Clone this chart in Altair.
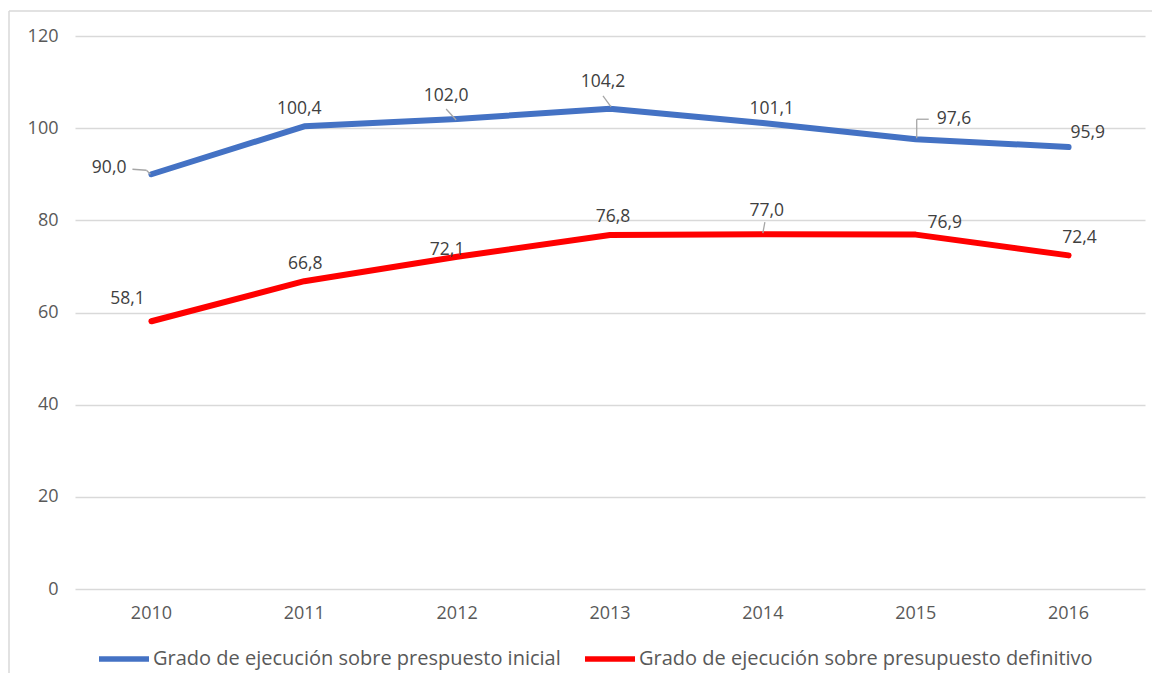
import altair as alt
import pandas as pd

years = ["2010", "2011", "2012", "2013", "2014", "2015", "2016"]
inicial = [90.0, 100.4, 102.0, 104.2, 101.1, 97.6, 95.9]
definitivo = [58.1, 66.8, 72.1, 76.8, 77.0, 76.9, 72.4]
series_names = [
    "Grado de ejecución sobre prespuesto inicial",
    "Grado de ejecución sobre presupuesto definitivo",
]
colors = ["#4472C4", "#FF0000"]
y_ticks = [0, 20, 40, 60, 80, 100, 120]

rows = []
for name, vals in zip(series_names, [inicial, definitivo]):
    for yr, v in zip(years, vals):
        rows.append({"year": yr, "value": v, "serie": name,
                     "label": f"{v:.1f}".replace(".", ",")})
df = pd.DataFrame(rows)

FONT = "Open Sans"
W, H = 1070, 553

x_enc = alt.X("year:N", sort=years, title=None,
              axis=alt.Axis(labelAngle=0, labelPadding=15, grid=False,
                            labelFont=FONT, labelFontSize=18, labelColor="#595959"))
y_enc = alt.Y("value:Q", title=None,
              scale=alt.Scale(domain=[0, 120], nice=False, zero=True),
              axis=alt.Axis(values=y_ticks, labelPadding=17, grid=True,
                            labelFont=FONT, labelFontSize=18, labelColor="#595959"))

base = alt.Chart(df)

lines = base.mark_line(strokeWidth=6, strokeCap="round", strokeJoin="round").encode(
    x=x_enc,
    y=y_enc,
    color=alt.Color("serie:N", sort=series_names,
                    scale=alt.Scale(domain=series_names, range=colors),
                    legend=alt.Legend(title=None, orient="none", legendX=21, legendY=595,
                                      direction="horizontal", symbolType="stroke",
                                      symbolStrokeWidth=5.5, symbolSize=2500,
                                      labelFont=FONT, labelFontSize=20, labelColor="#595959",
                                      labelOffset=1, columnPadding=13, labelLimit=700)),
)

# label placement (align, dx, dy) per series index and year
label_pos = {
    (0, "2010"): ("right", -25, -6),
    (0, "2011"): ("center", -5, -17),
    (0, "2012"): ("center", -11, -23),
    (0, "2013"): ("center", -7, -27),
    (0, "2014"): ("center", 9, -14),
    (0, "2015"): ("left", 21, -20),
    (0, "2016"): ("left", 2, -14),
    (1, "2010"): ("center", -24, -22),
    (1, "2011"): ("center", 1, -17),
    (1, "2012"): ("center", -10, -7),
    (1, "2013"): ("center", 3, -18),
    (1, "2014"): ("center", 4, -23),
    (1, "2015"): ("center", 29, -12),
    (1, "2016"): ("center", 11, -17),
}

layers = [lines]
for (si, yr), (al, dx, dy) in label_pos.items():
    layers.append(
        base.transform_filter(
            (alt.datum.serie == series_names[si]) & (alt.datum.year == yr)
        ).mark_text(align=al, baseline="middle", dx=dx, dy=dy, font=FONT,
                    fontSize=17.5, color="#404040").encode(
            x=alt.X("year:N", sort=years), y=alt.Y("value:Q"), text="label:N")
    )

# leader lines (series, year, x1, y1, x2, y2 offsets in px)
leaders = [
    (0, "2010", -19, -5, -5, -4),
    (0, "2010", -5, -4, -1, 0),
    (0, "2012", -11, -10, -1, 1),
    (0, "2013", -7, -13, 1, -2),
    (0, "2015", 1, -1, 1, -20),
    (0, "2015", 1, -20, 13, -20),
    (1, "2014", 2, -12, 0, -1),
]
for si, yr, x1, y1, x2, y2 in leaders:
    layers.append(
        base.transform_filter(
            (alt.datum.serie == series_names[si]) & (alt.datum.year == yr)
        ).mark_rule(color="#a6a6a6", strokeWidth=1.3, xOffset=x1, yOffset=y1,
                    x2Offset=x2, y2Offset=y2).encode(
            x=alt.X("year:N", sort=years), x2=alt.X2("year"),
            y=alt.Y("value:Q"), y2=alt.Y2("value"))
    )

# outer frame (top and left edges)
frame_top = alt.Chart(pd.DataFrame({"k": [0]})).mark_rule(color="#d9d9d9", strokeWidth=1.5).encode(
    x=alt.value(-66), x2=alt.value(1085), y=alt.value(-25))
frame_left = alt.Chart(pd.DataFrame({"k": [0]})).mark_rule(color="#d9d9d9", strokeWidth=1.5).encode(
    x=alt.value(-66), y=alt.value(-25), y2=alt.value(650))
layers += [frame_top, frame_left]

chart = alt.layer(*layers).properties(
    width=W, height=H,
    autosize=alt.AutoSizeParams(type="none"),
    padding={"left": 67, "top": 28, "right": 7, "bottom": 84},
    background="white",
).configure_view(stroke=None).configure_axis(
    domain=False, ticks=False, gridColor="#d9d9d9", gridWidth=1.3
)

chart.save("out.html", embed_options={"renderer": "svg", "actions": False})
